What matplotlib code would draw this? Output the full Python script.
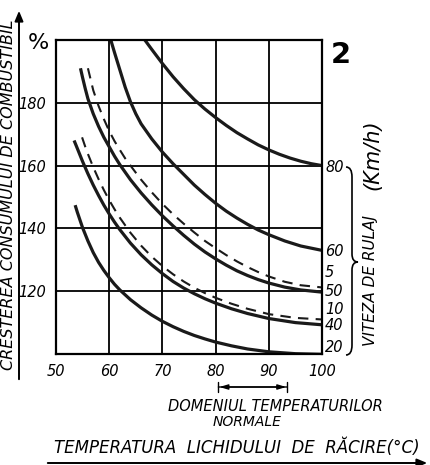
import matplotlib
matplotlib.use('Agg')
import matplotlib.pyplot as plt
from matplotlib.path import Path
from matplotlib.patches import PathPatch, FancyArrowPatch

# curves: coolant temperature (C) vs fuel consumption increase (%)
v80_t = [66.7, 68, 70, 72, 74, 76, 78, 80, 82, 84, 86, 88, 90, 92, 94, 96, 98, 100]
v80_c = [200, 197, 192.5, 188.3, 184.5, 181, 178, 175.3, 172.8, 170.5, 168.5, 166.6,
         165, 163.6, 162.4, 161.4, 160.6, 160]

v60_t = [60.3, 61, 62, 63, 64, 65, 66, 68, 70, 72, 74, 76, 78, 80, 82, 84, 86, 88, 90,
         93, 96, 100]
v60_c = [200, 196, 190.5, 185, 180.3, 176.5, 173.3, 168.5, 164.3, 160.6, 157.2, 153.8,
         150.8, 148, 145.5, 143.3, 141.3, 139.5, 138, 136, 134.4, 133]

v50_t = [54.6, 55, 55.5, 56, 57, 58, 59, 60, 61, 62, 64, 66, 68, 70, 72, 74, 76, 78,
         80, 82, 84, 86, 88, 90, 93, 96, 100]
v50_c = [191, 188, 184.5, 181.3, 176.5, 172.5, 169, 166, 163, 160.3, 155.5, 151.3,
         147.5, 144, 140.8, 137.8, 135, 132.5, 130.3, 128.3, 126.5, 125, 123.7, 122.6,
         121.3, 120.4, 119.7]

v5_t = [56, 56.5, 57, 58, 59, 60, 61, 62, 63, 64, 66, 68, 70, 72, 74, 76, 78, 80, 82,
        84, 86, 88, 90, 93, 96, 100]
v5_c = [191, 187.5, 184, 179, 174.8, 171, 167.8, 165, 162.3, 160, 155.5, 151.5, 147.8,
        144.5, 141.5, 138.7, 136, 133.7, 131.5, 129.5, 127.7, 126.1, 124.7, 123, 121.9,
        121.2]

v40_t = [53.4, 54, 55, 56, 57, 58, 59, 60, 61, 62, 64, 66, 68, 70, 72, 74, 76, 78, 80,
         83, 86, 90, 95, 100]
v40_c = [168, 165.5, 161.3, 157.4, 153.8, 150.5, 147.4, 144.6, 142, 139.6, 135.3, 131.6,
         128.4, 125.6, 123.1, 121, 119.2, 117.6, 116.2, 114.4, 112.9, 111.3, 110, 109.3]

v10_t = [54.9, 55.5, 56, 57, 58, 59, 60, 61, 62, 64, 66, 68, 70, 72, 74, 76, 78, 80, 83,
         86, 90, 95, 100]
v10_c = [169, 166, 163.7, 159.5, 155.7, 152.2, 149, 146.1, 143.4, 138.6, 134.5, 131, 128,
         125.4, 123.1, 121.1, 119.4, 117.9, 116, 114.4, 112.7, 111.5, 111]

v20_t = [53.6, 54, 55, 56, 57, 58, 59, 60, 61, 62, 64, 66, 68, 70, 72, 74, 76, 78, 80,
         83, 86, 90, 95, 100]
v20_c = [147.4, 145.2, 140.2, 136, 132.3, 129.2, 126.6, 124.3, 122.2, 120.4, 117.3, 114.7,
         112.4, 110.4, 108.7, 107.2, 105.9, 104.8, 103.8, 102.6, 101.6, 100.7, 100.1, 99.9]

curve_names = ['80', '60', '5', '50', '10', '40', '20']
name_y = [159.5, 132.5, 125.8, 120, 114.2, 109.2, 102]

x_ticks = [50, 60, 70, 80, 90, 100]
y_ticks = [120, 140, 160, 180]
normal_range = [80, 94]

W, H = 430, 465


def fp(x, y):
    # pixel position -> figure fraction
    return x / W, 1 - y / H


fig = plt.figure(figsize=(W / 100, H / 100), dpi=100)
ax = fig.add_axes([56 / W, 1 - 354 / H, 266 / W, 314 / H])
ax.set_xlim(50, 100)
ax.set_ylim(100, 200)
ax.set_xticks(x_ticks)
ax.set_yticks(y_ticks)
ax.grid(True, color='black', lw=1.3)
ax.tick_params(length=0, labelsize=10.5, pad=7)
for lab in ax.get_xticklabels() + ax.get_yticklabels():
    lab.set_fontstyle('italic')
for s in ax.spines.values():
    s.set_linewidth(1.6)

solid = dict(color='#1a1a1a', lw=2.3, solid_capstyle='butt', solid_joinstyle='round')
dashed = dict(color='#1a1a1a', lw=1.5, dashes=(5, 3.5))
ax.plot(v80_t, v80_c, **solid)
ax.plot(v60_t, v60_c, **solid)
ax.plot(v50_t, v50_c, **solid)
ax.plot(v40_t, v40_c, **solid)
ax.plot(v20_t, v20_c, **solid)
ax.plot(v5_t, v5_c, **dashed)
ax.plot(v10_t, v10_c, **dashed)

for name, yv in zip(curve_names, name_y):
    ax.text(100.6, yv, name, fontsize=10.5, style='italic', va='center', ha='left',
            clip_on=False)

fig.text(*fp(38, 43), '%', fontsize=16, ha='center', va='center')
fig.text(*fp(341, 55), '2', fontsize=21, fontweight='bold', ha='center', va='center')

# brace grouping the speed labels
bx, cy = 352, 262
pts = [(346, 167), (352, 167), (352, 177),
       (bx, cy - 8), (bx, cy), (358, cy),
       (bx, cy), (bx, cy + 8),
       (352, 345), (352, 355), (346, 355)]
codes = [Path.MOVETO, Path.CURVE3, Path.CURVE3,
         Path.LINETO, Path.CURVE3, Path.CURVE3,
         Path.CURVE3, Path.CURVE3,
         Path.LINETO, Path.CURVE3, Path.CURVE3]
brace = Path([fp(*p) for p in pts], codes)
fig.add_artist(PathPatch(brace, fill=False, lw=1.2, color='black', transform=fig.transFigure))

fig.text(*fp(370, 280), 'VITEZA DE RULAJ', rotation=90, fontsize=11, style='italic',
         ha='center', va='center')
fig.text(*fp(372, 155), '(Km/h)', rotation=90, fontsize=15, style='italic',
         ha='center', va='center')

# normal temperature range under the x axis
ya = fp(0, 387)[1]
ax.annotate('', xy=(normal_range[1], ya), xytext=(normal_range[0], ya),
            xycoords=('data', 'figure fraction'),
            arrowprops=dict(arrowstyle='|-|,widthA=0.35,widthB=0.35', lw=1.0, color='black'),
            annotation_clip=False)
ax.annotate('', xy=(normal_range[1] - 0.2, ya), xytext=(normal_range[0] + 0.2, ya),
            xycoords=('data', 'figure fraction'),
            arrowprops=dict(arrowstyle='<|-|>,head_length=0.5,head_width=0.15', lw=1.0,
                            color='black'),
            annotation_clip=False)
fig.text(*fp(275, 406), 'DOMENIUL TEMPERATURILOR', fontsize=10.5, style='italic',
         ha='center', va='center')
fig.text(*fp(247, 422), 'NORMALE', fontsize=10, style='italic', ha='center', va='center')

# axis titles with their arrows
fig.text(*fp(237, 448), 'TEMPERATURA  LICHIDULUI  DE  RĂCIRE(°C)', fontsize=12,
         style='italic', ha='center', va='center')
fig.add_artist(FancyArrowPatch(fp(45, 463), fp(430, 463), transform=fig.transFigure,
                               arrowstyle='-|>,head_length=6,head_width=2.5', lw=1.4,
                               color='black'))
fig.text(*fp(9, 195), 'CRESTEREA CONSUMULUI DE COMBUSTIBIL', rotation=90, fontsize=11.5,
         style='italic', ha='center', va='center')
fig.add_artist(FancyArrowPatch(fp(19, 382), fp(19, 8), transform=fig.transFigure,
                               arrowstyle='-|>,head_length=6,head_width=2.5', lw=1.4,
                               color='black'))

fig.savefig('out.png', dpi=100)
